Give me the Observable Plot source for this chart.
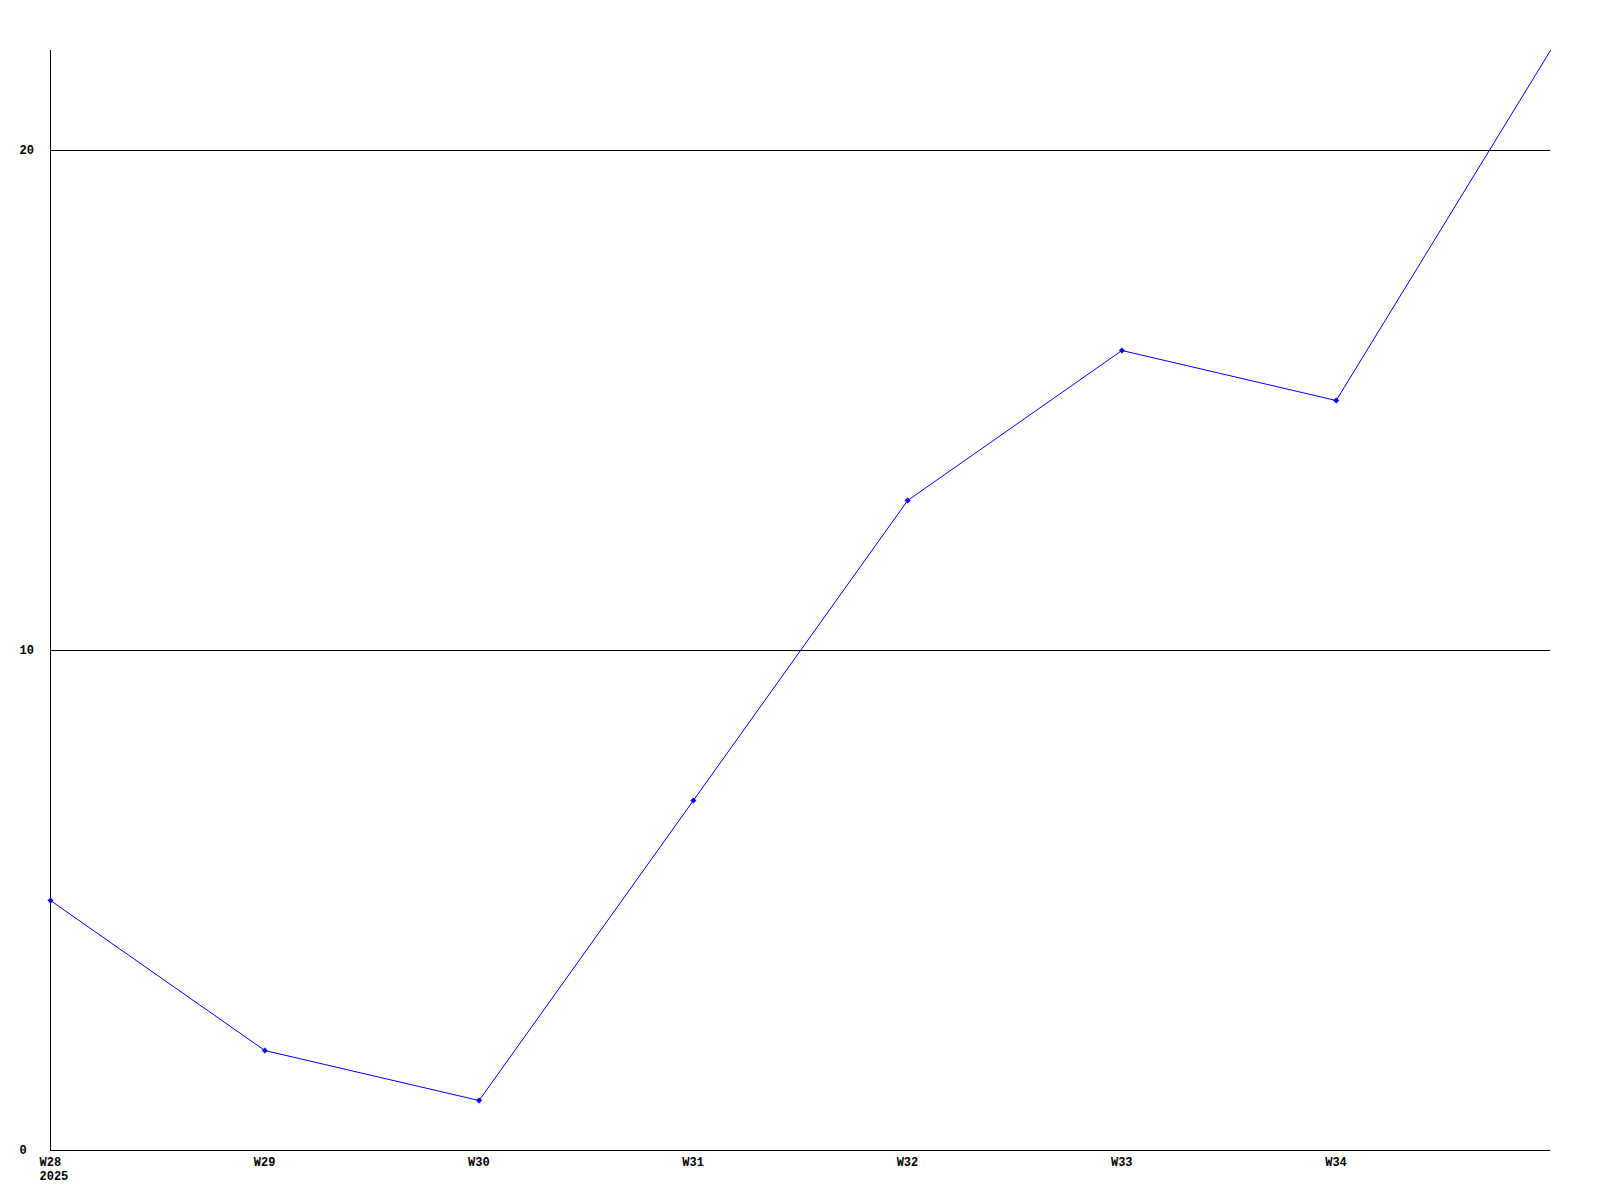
<!DOCTYPE html>
<html>
<head>
<meta charset="utf-8">
<script src="https://cdn.jsdelivr.net/npm/d3@7"></script>
<script src="https://cdn.jsdelivr.net/npm/@observablehq/plot@0.6"></script>
<style>
  html, body { margin: 0; padding: 0; background: #fff; }
  svg { display: block; }
</style>
</head>
<body>
<div id="chart"></div>
<script>
const weeks = ["W28", "W29", "W30", "W31", "W32", "W33", "W34", "W35"];
const year = "2025";
const values = [5, 2, 1, 7, 13, 16, 15, 22];
const yTicks = [0, 10, 20];
const gridValues = [10, 20];

const data = weeks.map((w, i) => ({i, week: w, value: values[i]}));

const chart = Plot.plot({
  width: 1600,
  height: 1200,
  marginLeft: 50,
  marginRight: 50,
  marginTop: 50,
  marginBottom: 50,
  style: {fontFamily: "'Liberation Mono', 'DejaVu Sans Mono', monospace", fontSize: "12px", fontWeight: "bold", color: "#000", background: "#fff"},
  x: {domain: [0, weeks.length - 1]},
  y: {domain: [0, 22]},
  marks: [
    Plot.gridY(gridValues, {stroke: "#000", strokeOpacity: 1, shapeRendering: "crispEdges"}),
    Plot.ruleX([0], {stroke: "#000", shapeRendering: "crispEdges"}),
    Plot.ruleY([0], {stroke: "#000", shapeRendering: "crispEdges"}),
    Plot.axisY(yTicks, {tickSize: 0, tickPadding: 0, textAnchor: "start", dx: -31, label: null, fill: "#000", tickFormat: d3.format("d")}),
    Plot.axisX(d3.range(0, weeks.length - 1), {
      tickSize: 0, tickPadding: 5, textAnchor: "start", dx: -11, label: null, fill: "#000",
      lineHeight: 1.2,
      tickFormat: i => i === 0 ? weeks[i] + "\n" + year : weeks[i]
    }),
    Plot.line(data, {x: "i", y: "value", stroke: "#0000ff", strokeWidth: 1}),
    Plot.dot(data.filter(d => d.i < weeks.length - 1), {x: "i", y: "value", symbol: "diamond2", r: 2.5, fill: "#0000ff", stroke: "#0000ff", strokeWidth: 0.5})
  ]
});
document.getElementById("chart").appendChild(chart);
</script>
</body>
</html>
